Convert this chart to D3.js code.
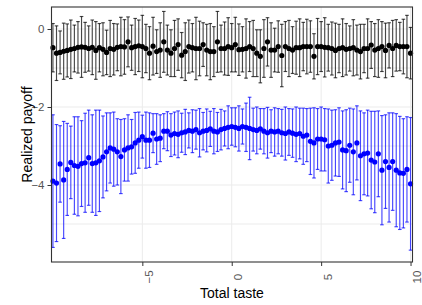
<!DOCTYPE html>
<html>
<head>
<meta charset="utf-8">
<script src="https://cdn.jsdelivr.net/npm/d3@7/dist/d3.min.js"></script>
<style>
  body { margin: 0; background: #fff; }
  text { font-family: "Liberation Sans", Arial, sans-serif; }
</style>
</head>
<body>
<div id="chart"></div>
<script>
// Data (x = -10 .. 10 in steps of 0.2)
const tasteFrom = -10;
const tasteStep = 0.2;

const blackMean = [
  -0.48, -0.62, -0.60, -0.57, -0.55, -0.52, -0.50, -0.47, -0.46, -0.47, -0.50, -0.47, -0.55, -0.48, -0.52, -0.60, -0.50,
  -0.52, -0.47, -0.45, -0.46, -0.33, -0.48, -0.45, -0.43, -0.45, -0.50, -0.62, -0.44, -0.58, -0.54, -0.33, -0.54, -0.62,
  -0.50, -0.40, -0.67, -0.58, -0.45, -0.48, -0.50, -0.50, -0.40, -0.54, -0.58, -0.58, -0.33, -0.50, -0.50, -0.45, -0.48,
  -0.40, -0.53, -0.52, -0.50, -0.45, -0.50, -0.62, -0.70, -0.50, -0.33, -0.54, -0.54, -0.45, -0.68, -0.45, -0.50,
  -0.54, -0.48, -0.48, -0.45, -0.45, -0.45, -0.70, -0.45, -0.45, -0.47, -0.48, -0.50, -0.55, -0.50, -0.48, -0.52, -0.50,
  -0.48, -0.54, -0.58, -0.50, -0.50, -0.41, -0.54, -0.50, -0.45, -0.55, -0.42, -0.50, -0.42, -0.45, -0.45, -0.45, -0.62
];
const blackErr = [
  0.62, 0.70, 0.55, 0.72, 0.68, 0.75, 0.60, 0.66, 0.78, 0.64, 0.58, 0.70, 0.74, 0.62, 0.68, 0.57, 0.72,
  0.66, 0.60, 0.75, 0.70, 0.64, 0.58, 0.72, 0.66, 0.80, 0.62, 0.68, 0.74, 0.56, 0.70, 0.78, 0.64, 0.60,
  0.72, 0.66, 0.58, 0.74, 0.68, 0.62, 0.80, 0.70, 0.56, 0.66, 0.72, 0.64, 0.78, 0.60, 0.68, 0.74, 0.62,
  0.70, 0.66, 0.58, 0.76, 0.64, 0.72, 0.60, 0.68, 0.74, 0.62, 0.70, 0.56, 0.66, 0.80, 0.64, 0.72,
  0.60, 0.68, 0.74, 0.62, 0.70, 0.66, 0.58, 0.72, 0.64, 0.76, 0.60, 0.68, 0.70, 0.62, 0.74, 0.66, 0.58,
  0.72, 0.64, 0.70, 0.62, 0.76, 0.60, 0.68, 0.74, 0.64, 0.70, 0.58, 0.72, 0.66, 0.62, 0.70, 0.80, 0.66
];
const blueMean = [
  -3.90, -3.95, -3.46, -3.87, -3.60, -3.42, -3.50, -3.52, -3.45, -3.43, -3.30, -3.45, -3.43, -3.38, -3.28, -3.15, -3.05,
  -3.08, -3.15, -3.27, -3.10, -3.05, -3.02, -2.92, -2.85, -2.76, -2.85, -2.85, -2.67, -2.82, -2.80, -2.62, -2.62, -2.72,
  -2.68, -2.70, -2.66, -2.64, -2.60, -2.62, -2.58, -2.66, -2.62, -2.60, -2.56, -2.62, -2.64, -2.58, -2.55, -2.52, -2.50,
  -2.52, -2.55, -2.50, -2.52, -2.55, -2.58, -2.60, -2.56, -2.62, -2.66, -2.62, -2.64, -2.62, -2.66, -2.68, -2.64,
  -2.67, -2.70, -2.68, -2.75, -2.72, -2.88, -2.92, -2.82, -2.82, -2.84, -3.00, -2.98, -2.92, -2.90, -3.10, -3.12, -2.98,
  -3.15, -2.92, -3.25, -3.20, -3.18, -3.36, -3.41, -3.20, -3.62, -3.40, -3.55, -3.40, -3.62, -3.69, -3.70, -3.60, -3.97
];
const blueErr = [
  1.70, 1.50, 0.98, 1.50, 1.18, 0.93, 1.25, 1.27, 1.10, 1.27, 1.22, 1.25, 1.35, 1.30, 1.05, 1.00, 0.90,
  0.95, 0.85, 0.95, 0.80, 0.85, 0.70, 0.78, 0.72, 0.55, 0.72, 0.70, 0.50, 0.65, 0.60, 0.45, 0.50, 0.55,
  0.55, 0.60, 0.50, 0.58, 0.45, 0.55, 0.50, 0.62, 0.48, 0.55, 0.45, 0.58, 0.50, 0.52, 0.45, 0.55, 0.48,
  0.50, 0.58, 0.45, 0.62, 0.80, 0.55, 0.60, 0.52, 0.58, 0.65, 0.55, 0.62, 0.58, 0.60, 0.68, 0.60,
  0.62, 0.70, 0.65, 0.72, 0.68, 0.85, 0.90, 0.78, 0.82, 0.80, 0.95, 0.90, 0.85, 0.88, 1.00, 1.05, 0.95,
  1.10, 0.95, 1.15, 1.05, 1.10, 1.25, 1.30, 1.10, 1.40, 1.20, 1.40, 1.25, 1.45, 1.45, 1.40, 1.35, 1.70
];

const xTicks = [-5, 0, 5, 10];
const yTicks = [0, -2, -4];
const yGrid = [0, -1, -2, -3, -4, -5];

// Base variables
const w = 422;
const h = 305;
const pLeft = 51.5, pRight = 412.5, pTop = 7, pBottom = 262;

const xScale = d3.scaleLinear().domain([-10.08, 10.11]).range([pLeft, pRight]);
const yScale = d3.scaleLinear().domain([-5.974, 0.564]).range([pBottom, pTop]);

const svg = d3
  .select("#chart")
  .append("svg")
  .attr("width", w)
  .attr("height", h);

// gridlines
svg
  .append("g")
  .selectAll("line")
  .data(yGrid)
  .enter()
  .append("line")
  .attr("x1", pLeft)
  .attr("x2", pRight)
  .attr("y1", d => yScale(d))
  .attr("y2", d => yScale(d))
  .attr("stroke", "#ebebeb")
  .attr("stroke-width", 1);

svg
  .append("g")
  .selectAll("line")
  .data(xTicks)
  .enter()
  .append("line")
  .attr("x1", d => xScale(d))
  .attr("x2", d => xScale(d))
  .attr("y1", pTop)
  .attr("y2", pBottom)
  .attr("stroke", "#ebebeb")
  .attr("stroke-width", 1);

// one group of error bars + points per series
function drawSeries(means, errs, barColor, pointColor) {
  const rows = means.map((m, i) => ({
    x: tasteFrom + i * tasteStep,
    y: m,
    lo: m - errs[i],
    hi: m + errs[i]
  }));
  const g = svg.append("g");
  const bars = g
    .selectAll("g")
    .data(rows)
    .enter()
    .append("g")
    .attr("stroke", barColor)
    .attr("stroke-width", 1.15);
  bars
    .append("line")
    .attr("x1", d => xScale(d.x))
    .attr("x2", d => xScale(d.x))
    .attr("y1", d => yScale(d.hi))
    .attr("y2", d => yScale(d.lo));
  bars
    .append("line")
    .attr("x1", d => xScale(d.x) - 1.8)
    .attr("x2", d => xScale(d.x) + 1.8)
    .attr("y1", d => yScale(d.hi))
    .attr("y2", d => yScale(d.hi));
  bars
    .append("line")
    .attr("x1", d => xScale(d.x) - 1.8)
    .attr("x2", d => xScale(d.x) + 1.8)
    .attr("y1", d => yScale(d.lo))
    .attr("y2", d => yScale(d.lo));
  g
    .selectAll("circle")
    .data(rows)
    .enter()
    .append("circle")
    .attr("cx", d => xScale(d.x))
    .attr("cy", d => yScale(d.y))
    .attr("r", 2.6)
    .attr("fill", pointColor);
}

drawSeries(blackMean, blackErr, "rgba(0,0,0,0.72)", "#000");
drawSeries(blueMean, blueErr, "rgba(0,0,255,0.72)", "#0000ff");

// panel border
svg
  .append("rect")
  .attr("x", pLeft)
  .attr("y", pTop)
  .attr("width", pRight - pLeft)
  .attr("height", pBottom - pTop)
  .attr("fill", "none")
  .attr("stroke", "#333")
  .attr("stroke-width", 1.1);

// y-axis
const yAxis = svg
  .append("g")
  .attr("transform", `translate(${pLeft}, 0)`)
  .call(d3.axisLeft(yScale).tickValues(yTicks).tickSize(4).tickPadding(3).tickFormat(d3.format("d")));
yAxis.select(".domain").remove();
yAxis.selectAll(".tick line").attr("stroke", "#333");
yAxis
  .selectAll(".tick text")
  .attr("fill", "#555")
  .style("font-size", "11.5px")
  .style("font-family", "Liberation Sans, Arial, sans-serif");

// x-axis with rotated labels
const xAxis = svg
  .append("g")
  .attr("transform", `translate(0, ${pBottom})`)
  .call(d3.axisBottom(xScale).tickValues(xTicks).tickSize(4).tickFormat(d3.format("d")));
xAxis.select(".domain").remove();
xAxis.selectAll(".tick line").attr("stroke", "#333");
xAxis
  .selectAll(".tick text")
  .attr("fill", "#555")
  .style("font-size", "11.5px")
  .style("font-family", "Liberation Sans, Arial, sans-serif")
  .attr("text-anchor", "middle")
  .attr("dy", null)
  .attr("y", null)
  .attr("transform", "translate(10, 15) rotate(-90)");

// axis titles
svg
  .append("text")
  .attr("x", (pLeft + pRight) / 2)
  .attr("y", 298)
  .attr("text-anchor", "middle")
  .style("font-size", "14px")
  .attr("fill", "#000")
  .text("Total taste");

svg
  .append("text")
  .attr("transform", `translate(32, ${(pTop + pBottom) / 2}) rotate(-90)`)
  .attr("text-anchor", "middle")
  .style("font-size", "14px")
  .attr("fill", "#000")
  .text("Realized payoff");
</script>
</body>
</html>
